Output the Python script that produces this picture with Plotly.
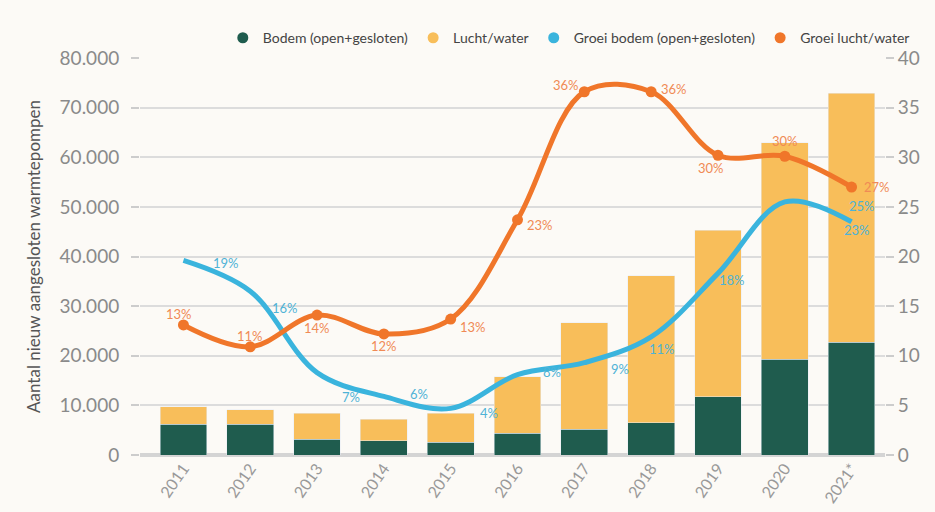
import plotly.graph_objects as go

years = ["2011", "2012", "2013", "2014", "2015", "2016", "2017", "2018", "2019", "2020", "2021*"]
bodem = [6200, 6200, 3200, 2850, 2550, 4400, 5200, 6500, 11700, 19300, 22700]
lucht = [3500, 2900, 5200, 4400, 5850, 11400, 21500, 29600, 33600, 43600, 50200]
groei_bodem = [19.6, 16.5, 8.3, 5.9, 4.7, 8.1, 9.3, 11.9, 18.3, 25.5, 23.5]
groei_lucht = [13.1, 10.9, 14.1, 12.2, 13.7, 23.7, 36.6, 36.6, 30.2, 30.1, 27.0]
labels_bodem = ["19%", "16%", "7%", "6%", "4%", "8%", "9%", "11%", "18%", "25%", "23%"]
labels_lucht = ["13%", "11%", "14%", "12%", "13%", "23%", "36%", "36%", "30%", "30%", "27%"]

# label offsets (pixels) - styling only
off_bodem = [(43, -3), (35, -17), (34, -24), (35, 2), (38, -5), (34, 3), (36, -6), (11, -12), (14, -7), (77, -4), (5, -8)]
off_lucht = [(-4, 11), (0, 11), (0, -13), (0, -12), (22, -8), (22, -5), (-18, 7), (23, 3), (-7, -13), (0, 15), (25, 0)]

GREEN = "#1F5C4E"
YELLOW = "#F8BE5A"
BLUE = "#3AB4DD"
ORANGE = "#F0762A"
FONT = "Lato"

fig = go.Figure()
fig.add_trace(go.Bar(x=years, y=bodem, marker_color=GREEN, name="Bodem (open+gesloten)", showlegend=False))
fig.add_trace(go.Bar(x=years, y=lucht, marker_color=YELLOW, name="Lucht/water", showlegend=False))
fig.add_trace(go.Scatter(x=years, y=groei_bodem, yaxis="y2", mode="lines",
                         line=dict(color=BLUE, width=5, shape="spline", smoothing=1.0),
                         showlegend=False))
fig.add_trace(go.Scatter(x=years, y=groei_lucht, yaxis="y2", mode="lines+markers",
                         line=dict(color=ORANGE, width=5, shape="spline", smoothing=1.0),
                         marker=dict(color=ORANGE, size=11), showlegend=False))

# legend entries (circles)
for nm, col in [("Bodem (open+gesloten)", GREEN), ("Lucht/water", YELLOW),
                ("Groei bodem (open+gesloten)", BLUE), ("Groei lucht/water", ORANGE)]:
    fig.add_trace(go.Scatter(x=[None], y=[None], mode="markers", name=nm,
                             marker=dict(color=col, size=11, symbol="circle")))

annotations = []
for i, yr in enumerate(years):
    dx, dy = off_bodem[i]
    annotations.append(dict(x=i, y=groei_bodem[i], xref="x", yref="y2", text=labels_bodem[i],
                            showarrow=False, xshift=dx, yshift=dy,
                            font=dict(family=FONT, size=13, color="#4FB3D6")))
    dx, dy = off_lucht[i]
    annotations.append(dict(x=i, y=groei_lucht[i], xref="x", yref="y2", text=labels_lucht[i],
                            showarrow=False, xshift=dx, yshift=dy,
                            font=dict(family=FONT, size=13, color="#F08A55")))

fig.update_layout(
    width=935, height=512,
    margin=dict(l=140, r=50, t=58, b=57, autoexpand=False),
    paper_bgcolor="#FCFAF6", plot_bgcolor="#FCFAF6",
    barmode="stack", bargap=0.3,
    separators=",.",
    font=dict(family=FONT, color="#888888"),
    xaxis=dict(type="category", range=[-0.65, 10.5], tickangle=-55, automargin=False,
               tickfont=dict(size=16, color="#999999"), showgrid=False,
               ticks="", showline=False),
    yaxis=dict(range=[0, 80000], dtick=10000, tickformat=",.0f", automargin=False,
               gridcolor="#DCDCDC", gridwidth=2, zeroline=True, zerolinecolor="#D4D4D4",
               zerolinewidth=4, ticks="outside", ticklen=8, tickcolor="#CCCCCC", tickwidth=2,
               ticklabelstandoff=8,
               tickfont=dict(size=19, color="#8A8A8A"),
               title=dict(text="Aantal nieuw aangesloten warmtepompen", standoff=14,
                          font=dict(size=17, color="#555555"))),
    yaxis2=dict(range=[0, 40], dtick=5, overlaying="y", side="right", showgrid=False,
                zeroline=False, ticks="outside", ticklen=8, tickcolor="#CCCCCC", tickwidth=2,
                automargin=False,
                tickfont=dict(size=19, color="#8A8A8A")),
    legend=dict(orientation="h", x=1.04, xanchor="right", y=1.05, yanchor="middle",
                traceorder="normal",
                font=dict(size=14, color="#444444"), itemwidth=30, bgcolor="rgba(0,0,0,0)"),
    annotations=annotations,
)

fig.write_html("out.html")
